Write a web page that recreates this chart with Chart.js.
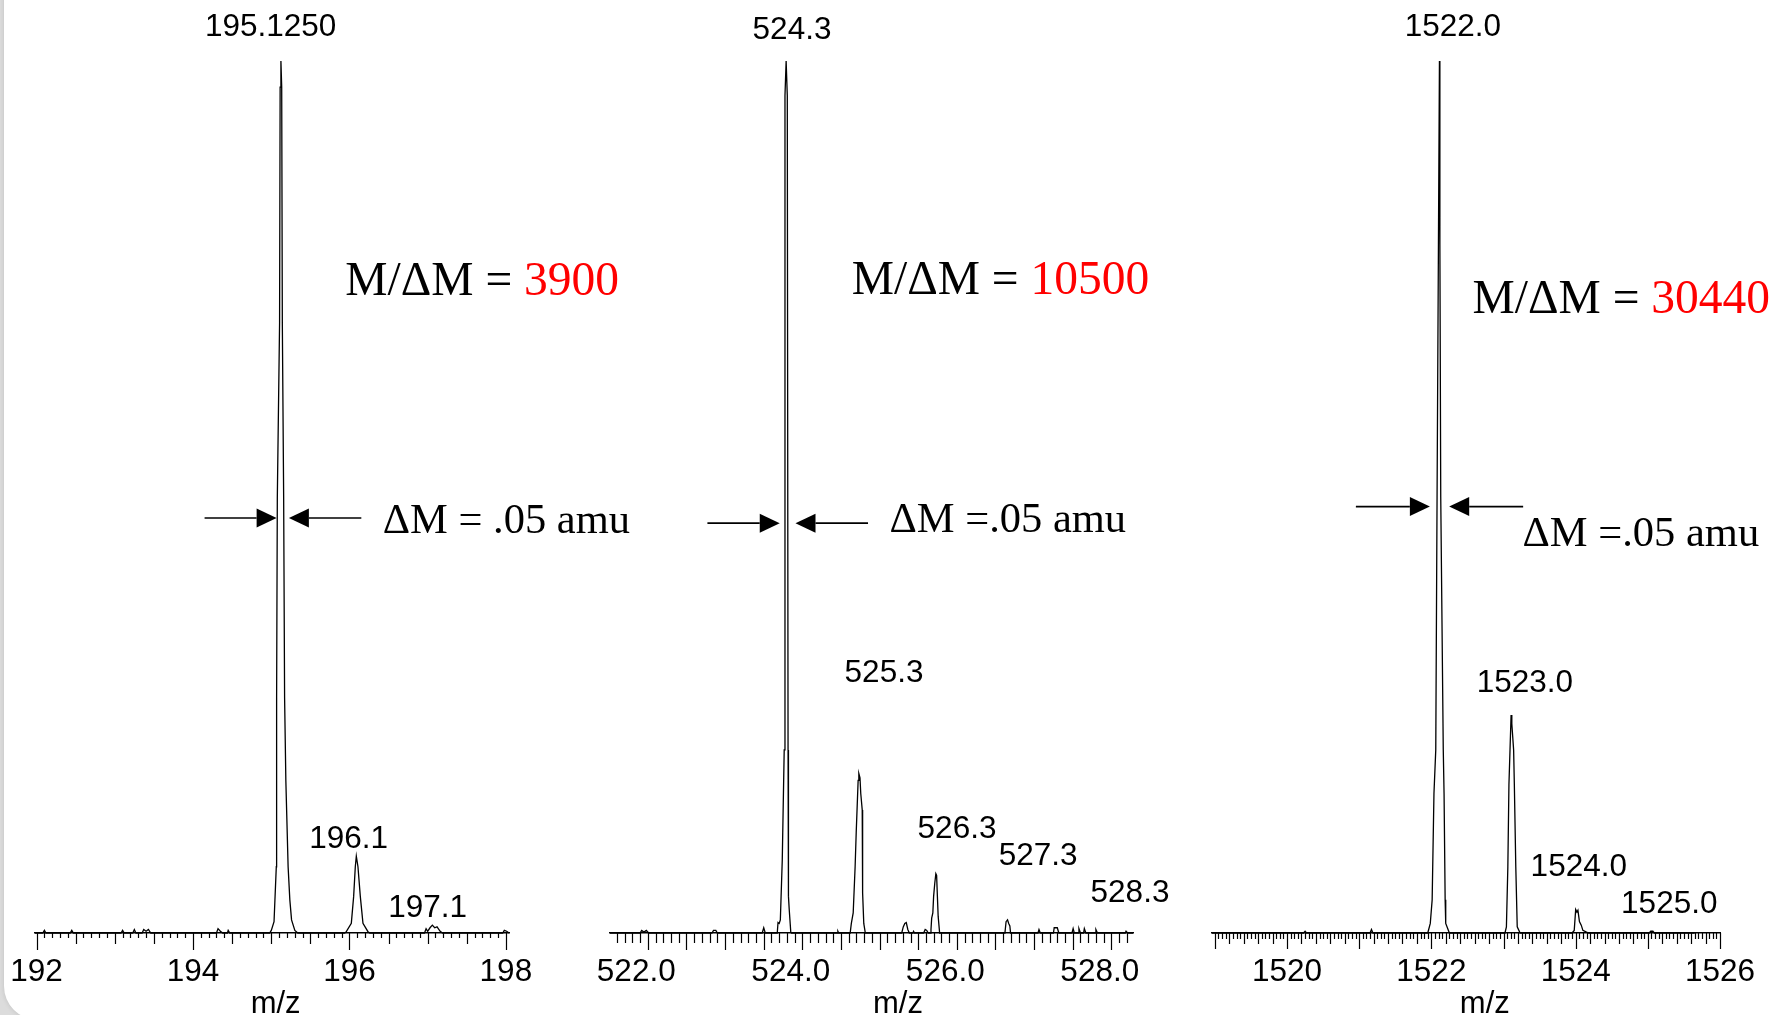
<!DOCTYPE html>
<html lang="en">
<head>
<meta charset="UTF-8">
<title>Mass resolution</title>
<script src="https://cdn.jsdelivr.net/npm/chart.js"></script>
<style>
  * { margin: 0; padding: 0; box-sizing: border-box; }
  html, body { width: 1772px; height: 1015px; overflow: hidden; background: #dcdcdc; }
  .slide { position: absolute; left: 4px; top: -60px; width: 1840px; height: 1080px; background: #fff; border-radius: 34px; box-shadow: 0 0 5px rgba(0,0,0,0.12); }
  canvas { position: absolute; top: 0; }
</style>
</head>
<body>
<div class="slide"></div>
<canvas id="c1" width="640" height="1015" style="left:0px"></canvas>
<canvas id="c2" width="620" height="1015" style="left:560px"></canvas>
<canvas id="c3" width="602" height="1015" style="left:1170px"></canvas>

<script>
// spectrum 1 (m/z, relative intensity %)
const mz1 = [191.98, 192.08, 192.10, 192.12, 192.43, 192.45, 192.47, 193.08, 193.10, 193.12,
  193.23, 193.25, 193.27, 193.35, 193.37, 193.40, 193.43, 193.46, 194.30, 194.32, 194.35, 194.38,
  194.44, 194.45, 194.47, 194.98, 195.001, 195.036, 195.065, 195.069, 195.078, 195.107, 195.114,
  195.124, 195.134, 195.142, 195.159, 195.171, 195.187, 195.216, 195.238, 195.260, 195.302, 195.34,
  195.94, 195.960, 196.024, 196.054, 196.075, 196.088, 196.109, 196.139, 196.173, 196.237, 196.26,
  196.96, 196.98, 197.00, 197.03, 197.06, 197.09, 197.12, 197.16, 197.19, 197.96, 197.98, 198.01, 198.04];
const int1 = [0, 0, 0.3, 0, 0, 0.3, 0, 0, 0.3, 0,
  0, 0.4, 0, 0, 0.4, 0.2, 0.4, 0, 0, 0.5, 0.2, 0,
  0, 0.3, 0, 0, 0.3, 1.3, 7.6, 27, 50, 70, 97,
  100, 97, 70, 50, 27, 17.5, 7.6, 3.8, 1.5, 0.3, 0,
  0, 0.15, 1.1, 4.2, 7.6, 8.8, 7.6, 4.2, 1.1, 0.15, 0,
  0, 0.5, 0.2, 0.6, 0.9, 0.6, 0.7, 0.2, 0, 0, 0.3, 0.2, 0];
const axisTicks1 = [192, 194, 196, 198];
const peakLabels1 = ['195.1250', '196.1', '197.1'];

// spectrum 2
const mz2 = [521.66, 522.05, 522.07, 522.10, 522.13, 522.16, 522.98, 523.00, 523.03, 523.05,
  523.63, 523.65, 523.67, 523.80, 523.825, 523.835, 523.85, 523.865, 523.89, 523.915, 523.925,
  523.94, 523.955, 523.965, 523.97, 523.98, 524.00, 524.01, 524.60, 524.61, 524.62,
  524.769, 524.784, 524.808, 524.833, 524.847, 524.872, 524.881, 524.896, 524.906, 524.925,
  524.930, 524.945, 524.965, 525.436, 525.456, 525.476, 525.495, 525.515, 525.535, 525.58,
  525.59, 525.60, 525.72, 525.74, 525.76, 525.78, 525.805, 525.815, 525.824, 525.839, 525.849,
  525.864, 525.878, 525.888, 525.898, 525.908, 525.927, 526.772, 526.787, 526.806, 526.821,
  526.836, 526.845, 527.20, 527.213, 527.23, 527.40, 527.41, 527.45, 527.47, 527.64, 527.655,
  527.67, 527.72, 527.73, 527.75, 527.79, 527.80, 527.82, 527.94, 527.95, 527.97, 528.33,
  528.34, 528.36, 528.43];
const int2 = [0, 0, 0.3, 0.1, 0.3, 0, 0, 0.3, 0.3, 0,
  0, 0.6, 0, 0, 0, 1.2, 1.1, 1.5, 8.4, 21, 96,
  100, 96, 21, 4.2, 2.7, 0.1, 0, 0, 0.2, 0,
  0, 1.1, 2.3, 7.6, 11.5, 17.5, 18.3, 17.8, 16, 14.1,
  4.6, 1.1, 0, 0, 0.7, 1.1, 1.2, 0.4, 0, 0,
  0.2, 0, 0, 0.4, 0.3, 0, 0, 0.4, 1.7, 2.3, 4.2,
  5.7, 6.8, 6.6, 4.2, 1.9, 0, 0, 1.3, 1.5, 1.1,
  0.8, 0, 0, 0.4, 0, 0, 0.6, 0.6, 0, 0, 0.5,
  0, 0, 0.5, 0, 0, 0.5, 0, 0, 0.4, 0, 0,
  0.2, 0, 0];
const axisTicks2 = [522, 524, 526, 528];
const peakLabels2 = ['524.3', '525.3', '526.3', '527.3', '528.3'];

// spectrum 3
const mz3 = [1518.96, 1520.23, 1520.25, 1520.27, 1521.15, 1521.17, 1521.19, 1521.95, 1521.985,
  1522.011, 1522.036, 1522.061, 1522.079, 1522.098, 1522.112, 1522.118, 1522.13, 1522.165,
  1522.176, 1522.191, 1522.199, 1522.25, 1523.02, 1523.04, 1523.06, 1523.075, 1523.09, 1523.105,
  1523.115, 1523.14, 1523.15, 1523.17, 1523.19, 1523.23, 1523.95, 1523.98, 1524.00, 1524.017,
  1524.031, 1524.052, 1524.077, 1524.10, 1524.15, 1524.18, 1525.02, 1525.04, 1525.07, 1525.09, 1525.65];
const int3 = [0, 0, 0.2, 0, 0, 0.4, 0, 0, 1.1,
  3.8, 16, 21, 50, 79, 100, 79, 50, 21,
  16, 3.8, 1.1, 0, 0, 0.7, 7.6, 17, 21, 25,
  24, 21, 17, 7.6, 0.7, 0, 0, 0.3, 2.7, 2.4,
  2.6, 1.3, 0.9, 0.3, 0.1, 0, 0, 0.2, 0.2, 0, 0];
const axisTicks3 = [1520, 1522, 1524, 1526];
const peakLabels3 = ['1522.0', '1523.0', '1524.0', '1525.0'];

const resolution = ['3900', '10500', '30440'];

const sans = '"Liberation Sans", Arial, sans-serif';
const serif = '"Liberation Serif", "Times New Roman", serif';

// placement of each panel and its notes (x in m/z, y in % of the tallest peak)
const panels = [
  {
    id: 'c1', pad: [35, 131], min: 191.98, max: 198.04,
    mz: mz1, intensity: int1, ticks: axisTicks1, fmt: v => String(v),
    minor: { origin: 192, step: 0.1, marks: [[2, 17], [0.5, 11], [0.1, 5]] },
    peaks: [[194.992, 102.9], [195.990, 9.75], [197.0, 1.83]], peakText: peakLabels1,
    title: [195.056, -9.2],
    ratio: [195.948, 73.2, resolution[0]],
    dm: [196.425, 45.9, 'ΔM = .05 amu'],
    arrows: [47.6, 194.148, 195.069, 196.152, 195.226]
  },
  {
    id: 'c2', pad: [50, 47], min: 521.66, max: 528.43,
    mz: mz2, intensity: int2, ticks: axisTicks2, fmt: v => v.toFixed(1),
    minor: { origin: 521.65, step: 0.1, marks: [[0.5, 17], [0.1, 10]] },
    peaks: [[524.016, 102.5], [525.207, 28.8], [526.152, 10.9], [527.201, 7.8], [528.391, 3.55]],
    peakText: peakLabels2,
    title: [525.388, -9.2],
    ratio: [524.789, 73.3, resolution[1]],
    dm: [525.277, 46.0, 'ΔM =.05 amu'],
    arrows: [47.0, 522.921, 523.857, 525.0, 524.061]
  },
  {
    id: 'c3', pad: [42, 52], min: 1518.96, max: 1526.0,
    mz: mz3, intensity: int3, ticks: axisTicks3, fmt: v => String(v),
    minor: { origin: 1519, step: 0.05, marks: [[1, 16], [0.2, 11], [0.05, 6]] },
    peaks: [[1522.298, 102.9], [1523.295, 27.6], [1524.043, 6.5], [1525.297, 2.3]],
    peakText: peakLabels3,
    title: [1522.741, -9.2],
    ratio: [1522.571, 71.1, resolution[2]],
    dm: [1523.263, 44.4, 'ΔM =.05 amu'],
    arrows: [48.9, 1520.954, 1521.979, 1523.272, 1522.247]
  }
];

function arrow(ctx, fromPx, tipPx, yPx) {
  const dir = tipPx > fromPx ? 1 : -1;
  const headBase = tipPx - dir * 20;
  ctx.beginPath();
  ctx.moveTo(fromPx, yPx);
  ctx.lineTo(headBase, yPx);
  ctx.stroke();
  ctx.beginPath();
  ctx.moveTo(tipPx, yPx);
  ctx.lineTo(headBase, yPx - 9.5);
  ctx.lineTo(headBase, yPx + 9.5);
  ctx.closePath();
  ctx.fill();
}

function overlay(p) {
  return {
    id: 'overlay',
    afterDraw(chart) {
      const { ctx, scales: { x, y } } = chart;
      const base = y.getPixelForValue(0);
      ctx.save();

      // small tick marks under the axis
      const t = p.minor;
      const k0 = Math.ceil((x.min - t.origin) / t.step - 1e-6);
      const k1 = Math.floor((x.max - t.origin) / t.step + 1e-6);
      ctx.strokeStyle = '#000';
      ctx.lineWidth = 1.2;
      ctx.beginPath();
      for (let k = k0; k <= k1; k++) {
        const d = k * t.step;
        const mark = t.marks.find(([m]) => Math.abs(d / m - Math.round(d / m)) < 1e-6);
        const px = Math.round(x.getPixelForValue(t.origin + d)) + 0.5;
        ctx.moveTo(px, base);
        ctx.lineTo(px, base + mark[1]);
      }
      ctx.stroke();

      // peak labels and axis title
      ctx.fillStyle = '#000';
      ctx.font = '31.5px ' + sans;
      ctx.textAlign = 'center';
      ctx.textBaseline = 'alphabetic';
      p.peaks.forEach(([vx, vy], i) => {
        ctx.fillText(p.peakText[i], x.getPixelForValue(vx), y.getPixelForValue(vy));
      });
      ctx.font = '31px ' + sans;
      ctx.fillText('m/z', x.getPixelForValue(p.title[0]), y.getPixelForValue(p.title[1]));

      // resolving power
      ctx.textAlign = 'left';
      ctx.font = '47.5px ' + serif;
      const rx = x.getPixelForValue(p.ratio[0]);
      const ry = y.getPixelForValue(p.ratio[1]);
      const head = 'M/ΔM = ';
      ctx.fillText(head, rx, ry);
      ctx.fillStyle = '#ff0000';
      ctx.fillText(p.ratio[2], rx + ctx.measureText(head).width, ry);

      // peak width
      ctx.fillStyle = '#000';
      ctx.font = '42.5px ' + serif;
      ctx.fillText(p.dm[2], x.getPixelForValue(p.dm[0]), y.getPixelForValue(p.dm[1]));

      const [ay, l1, l2, r1, r2] = p.arrows;
      const yPx = y.getPixelForValue(ay);
      ctx.lineWidth = 1.6;
      arrow(ctx, x.getPixelForValue(l1), x.getPixelForValue(l2), yPx);
      arrow(ctx, x.getPixelForValue(r1), x.getPixelForValue(r2), yPx);
      ctx.restore();
    }
  };
}

panels.forEach(p => {
  new Chart(document.getElementById(p.id), {
    type: 'line',
    data: {
      datasets: [{
        data: p.mz.map((v, i) => ({ x: v, y: p.intensity[i] })),
        borderColor: '#000',
        borderWidth: 1.3,
        pointRadius: 0,
        tension: 0,
        fill: false,
        clip: false
      }]
    },
    options: {
      responsive: false,
      animation: false,
      events: [],
      layout: { padding: { left: p.pad[0], right: p.pad[1], top: 61, bottom: 0 } },
      plugins: { legend: { display: false }, tooltip: { enabled: false } },
      scales: {
        x: {
          type: 'linear',
          min: p.min,
          max: p.max,
          afterBuildTicks: s => { s.ticks = p.ticks.map(v => ({ value: v })); },
          afterFit: s => { s.height = 82; s.paddingLeft = 0; s.paddingRight = 0; },
          grid: { display: false, drawTicks: false },
          border: { display: true, color: '#000', width: 1.5 },
          ticks: {
            autoSkip: false, maxRotation: 0, minRotation: 0, padding: 20,
            color: '#000', font: { family: sans, size: 31.5 },
            callback: v => p.fmt(v)
          }
        },
        y: { display: false, min: 0, max: 100 }
      }
    },
    plugins: [overlay(p)]
  });
});
</script>
</body>
</html>
